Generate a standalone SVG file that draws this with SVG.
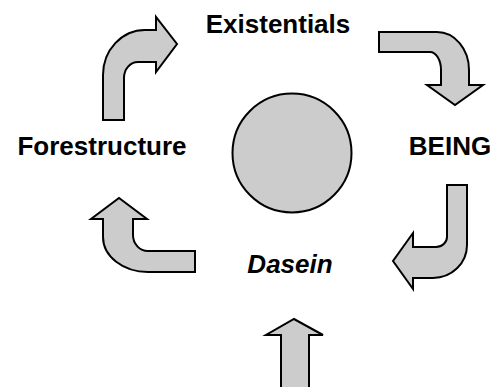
<svg xmlns="http://www.w3.org/2000/svg" width="490" height="387" viewBox="0 0 490 387">
<style>
.arrow{fill:#cccccc;stroke:#000;stroke-width:2;stroke-linejoin:miter}
.lbl{font-family:"Liberation Sans",Arial,sans-serif;font-weight:bold;font-size:26px;fill:#000}
</style>
<rect width="490" height="387" fill="#fff"/>
<g id="center">
<circle cx="292" cy="153" r="59.5" fill="#cccccc" stroke="#000" stroke-width="2"/>
</g>
<g id="existentials"><text class="lbl" x="278" y="33" text-anchor="middle">Existentials</text></g>
<g id="being"><text class="lbl" x="450" y="155" text-anchor="middle">BEING</text></g>
<g id="forestructure"><text class="lbl" x="102" y="155" text-anchor="middle">Forestructure</text></g>
<g id="dasein"><text class="lbl" x="290" y="273" text-anchor="middle" font-style="italic">Dasein</text></g>
<g id="connectors">
<path class="arrow" d="M103,120 L103,75 A42,45 0 0 1 145,30 L156,30 L156,17 L177,44 L156,72 L156,62 L138,62 A14,16 0 0 0 124,78 L124,120 Z"/>
<path class="arrow" d="M379,32 L437,32 A32,38 0 0 1 469,70 L469,85 L483,85 L455,105 L427,85 L441,85 L441,70 A11,18 0 0 0 430,52 L379,52 Z"/>
<path class="arrow" d="M447,185 L467,185 L467,245 A34,33 0 0 1 433,278 L413,278 L413,289 L393,261 L413,233 L413,247 L436,247 A11,10 0 0 0 447,237 Z"/>
<path class="arrow" d="M195,251 L195,272 L148,272 A45,35 0 0 1 103,237 L103,219 L91,219 L119,198 L147,219 L133,219 L133,235 A15,16 0 0 0 148,251 Z"/>
<path class="arrow" d="M281,390 L281,335 L266,335 L294,319 L323,335 L309,335 L309,390 Z"/>
</g>
</svg>
